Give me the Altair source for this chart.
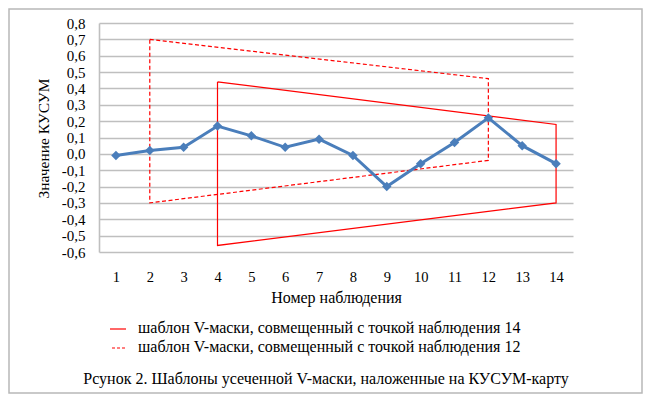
import altair as alt
import pandas as pd

# ---- data ----
obs = list(range(1, 15))
cusum = [-0.01, 0.02, 0.04, 0.17, 0.11, 0.04, 0.09, -0.01, -0.20, -0.06, 0.07, 0.22, 0.05, -0.06]

label14 = "шаблон V-маски, совмещенный с точкой наблюдения 14"
label12 = "шаблон V-маски, совмещенный с точкой наблюдения 12"

mask14_x = [4, 14, 14, 4, 4]
mask14_y = [0.44, 0.18, -0.30, -0.56, 0.44]
mask12_x = [2, 12, 12, 2, 2]
mask12_y = [0.70, 0.46, -0.04, -0.30, 0.70]

y_ticks = [-0.6, -0.5, -0.4, -0.3, -0.2, -0.1, 0.0, 0.1, 0.2, 0.3, 0.4, 0.5, 0.6, 0.7, 0.8]

caption = "Рсунок 2. Шаблоны усеченной V-маски, наложенные на КУСУМ-карту"

FONT = "Liberation Serif, Times New Roman, DejaVu Serif, serif"
GRID = "#bfbfbf"
RED = "#ff0000"
DASH = [4, 2.5]
TXT = 16

cusum_df = pd.DataFrame({"obs": obs, "cusum": cusum})
m14_df = pd.DataFrame({"obs": mask14_x, "cusum": mask14_y, "idx": range(len(mask14_x))})
m12_df = pd.DataFrame({"obs": mask12_x, "cusum": mask12_y, "idx": range(len(mask12_x))})

x_enc = alt.X(
    "obs:Q",
    scale=alt.Scale(domain=[0.5, 14.5], nice=False, zero=False),
    axis=alt.Axis(
        values=obs, format="d", grid=False, domain=False, ticks=False,
        labelFont=FONT, labelFontSize=14.5, labelColor="black", labelPadding=18,
        title="Номер наблюдения", titleFont=FONT, titleFontSize=TXT,
        titleFontWeight="normal", titleColor="black",
        titleY=50, titleBaseline="alphabetic",
    ),
)
y_enc = alt.Y(
    "cusum:Q",
    scale=alt.Scale(domain=[-0.6, 0.8], nice=False, zero=False),
    axis=alt.Axis(
        values=y_ticks,
        labelExpr="(datum.value < -0.0001 ? '-' : '') + replace(format(abs(datum.value), '.1f'), '.', ',')",
        grid=True, gridColor=GRID, gridWidth=1.6,
        domain=True, domainColor=GRID, domainWidth=1.6,
        ticks=False,
        labelFont=FONT, labelFontSize=15, labelColor="black", labelPadding=14,
        title="Значение КУСУМ", titleFont=FONT, titleFontSize=15.5,
        titleFontWeight="normal", titleColor="black",
        titleX=-51, titleY=115, titleBaseline="alphabetic",
    ),
)

mask14 = alt.Chart(m14_df).mark_line(color=RED, strokeWidth=1.2).encode(
    x=x_enc, y=y_enc, order="idx:Q")
mask12 = alt.Chart(m12_df).mark_line(color=RED, strokeWidth=1.2, strokeDash=DASH).encode(
    x=x_enc, y=y_enc, order="idx:Q")

line = alt.Chart(cusum_df).mark_line(color="#4a7ebb", strokeWidth=3).encode(x=x_enc, y=y_enc)
points = alt.Chart(cusum_df).mark_point(
    shape="diamond", filled=True, color="#4a7ebb", size=90, opacity=1
).encode(x=x_enc, y=y_enc)

# ---- legend (drawn as decoration) ----
one = pd.DataFrame({"t": [0]})
leg_sym14 = alt.Chart(one).mark_rule(color=RED, strokeWidth=1.2).encode(
    x=alt.value(11), x2=alt.value(27), y=alt.value(306))
leg_sym12 = alt.Chart(one).mark_rule(color=RED, strokeWidth=1.2, strokeDash=[3, 2]).encode(
    x=alt.value(13), x2=alt.value(27), y=alt.value(325))
leg_txt14 = alt.Chart(one).mark_text(
    text=label14, font=FONT, fontSize=TXT, color="black", align="left", baseline="alphabetic"
).encode(x=alt.value(39), y=alt.value(310))
leg_txt12 = alt.Chart(one).mark_text(
    text=label12, font=FONT, fontSize=TXT, color="black", align="left", baseline="alphabetic"
).encode(x=alt.value(39), y=alt.value(329))

cap = alt.Chart(one).mark_text(
    text=caption, font=FONT, fontSize=TXT, color="black", align="center", baseline="alphabetic"
).encode(x=alt.value(227), y=alt.value(361))

frame = alt.Chart(one).mark_rect(
    filled=False, stroke="#b8b8b8", strokeWidth=1.5
).encode(x=alt.value(-90), x2=alt.value(543), y=alt.value(-14), y2=alt.value(370))

chart = alt.layer(
    frame, mask14, mask12, line, points,
    leg_sym14, leg_sym12, leg_txt14, leg_txt12, cap
).properties(
    width=474, height=229,
    autosize=alt.AutoSizeParams(type="none"),
    padding={"left": 91, "top": 15, "right": 70, "bottom": 142},
    background="white",
).configure_view(stroke="transparent")

chart.save("out.html", embed_options={"renderer": "svg", "actions": False})
